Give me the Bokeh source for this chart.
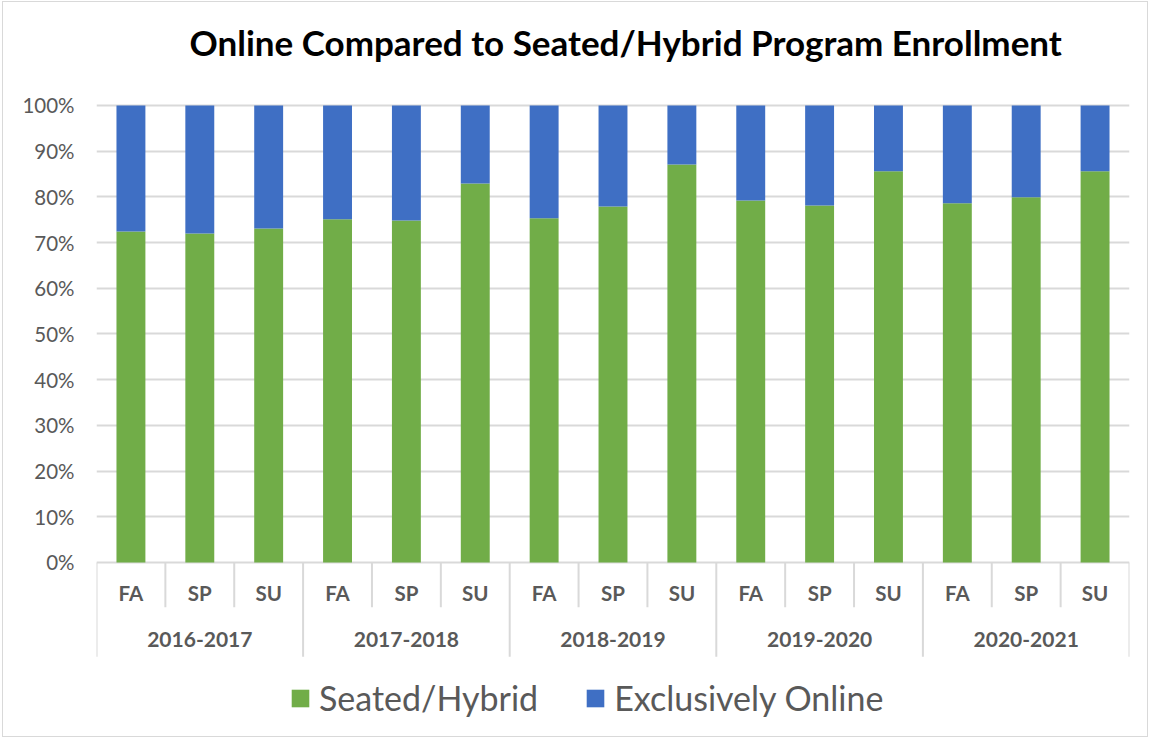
from bokeh.plotting import figure
from bokeh.models import (Range1d, FixedTicker, PrintfTickFormatter, Legend, LegendItem,
                          ColumnDataSource, Title)
from bokeh.core.properties import value
from bokeh.embed import file_html
from bokeh.resources import INLINE

# ---- data ----
years = ["2016-2017", "2017-2018", "2018-2019", "2019-2020", "2020-2021"]
terms = ["FA", "SP", "SU"]
seated = [72.4, 72.0, 73.1, 75.1, 74.8, 82.9, 75.3, 77.9, 87.1, 79.2, 78.1, 85.6, 78.6, 79.9, 85.6]
online = [round(100 - s, 1) for s in seated]
y_ticks = list(range(0, 101, 10))
title_text = "Online Compared to Seated/Hybrid Program Enrollment"
series_names = ["Seated/Hybrid", "Exclusively Online"]

GREEN = "#71ad48"
BLUE = "#3f6fc4"
GRID = "#d9d9d9"
TXT = "#595959"
FONT = "Lato"

nt = len(terms)
n = nt * len(years)
xs = [i + 0.5 for i in range(n)]
term_labels = [terms[i % nt] for i in range(n)]

src = ColumnDataSource(dict(x=xs, seated=seated, online=online))

p = figure(width=1146, height=736, output_backend="svg", toolbar_location=None,
           x_range=Range1d(0, n), y_range=Range1d(-36.54, 108.3),
           min_border_left=93, min_border_right=20, min_border_top=65, min_border_bottom=9,
           background_fill_color="white", border_fill_color="white")
p.outline_line_color = None
p.styles = {"border": "1px solid #d9d9d9", "margin-left": "2px", "margin-top": "1px"}

t = Title(text=title_text, align="left", offset=93, text_font=FONT, text_font_size="35px",
          text_font_style="bold", text_color="black", standoff=10)
p.add_layout(t, "above")

rs = p.vbar_stack(["seated", "online"], x="x", width=0.42, source=src,
                  color=[GREEN, BLUE], line_color=None)

# axes
p.xaxis.visible = False
p.yaxis.ticker = FixedTicker(ticks=y_ticks)
p.yaxis.formatter = PrintfTickFormatter(format="%d%%")
p.yaxis.axis_line_color = None
p.yaxis.major_tick_line_color = None
p.yaxis.minor_tick_line_color = None
p.yaxis.major_label_standoff = 16
p.yaxis.major_label_text_font = FONT
p.yaxis.major_label_text_font_size = "20.5px"
p.yaxis.major_label_text_color = TXT
p.xgrid.visible = False
p.ygrid.ticker = FixedTicker(ticks=y_ticks)
p.ygrid.grid_line_color = GRID
p.ygrid.grid_line_width = 2

# category axis separators
small_x = [float(i) for i in range(1, n) if i % nt != 0]
group_x = [float(i) for i in range(0, n + 1, nt)]
p.segment(x0=small_x, y0=[0] * len(small_x), x1=small_x, y1=[-9.8] * len(small_x),
          line_color=GRID, line_width=2)
p.segment(x0=group_x, y0=[0] * len(group_x), x1=group_x, y1=[-20.6] * len(group_x),
          line_color=GRID, line_width=2)

# category labels
p.text(x=xs, y=[-6.6] * n, text=term_labels, text_align="center", text_baseline="middle",
       text_font=value(FONT), text_font_size="20.5px", text_font_style="bold", text_color=TXT)
gx = [nt * j + nt / 2 for j in range(len(years))]
p.text(x=gx, y=[-16.9] * len(years), text=years, text_align="center", text_baseline="middle",
       text_font=value(FONT), text_font_size="21px", text_font_style="bold", text_color=TXT)

legend = Legend(items=[LegendItem(label=series_names[0], renderers=[rs[0]]),
                       LegendItem(label=series_names[1], renderers=[rs[1]])],
                orientation="horizontal", location=(193, 11),
                label_text_font=FONT, label_text_font_size="34px", label_text_color=TXT,
                glyph_width=22, glyph_height=22, label_standoff=8, spacing=46,
                padding=0, margin=0, border_line_color=None, background_fill_alpha=0)
p.add_layout(legend, "center")

open("out.html", "w").write(file_html(p, INLINE))
